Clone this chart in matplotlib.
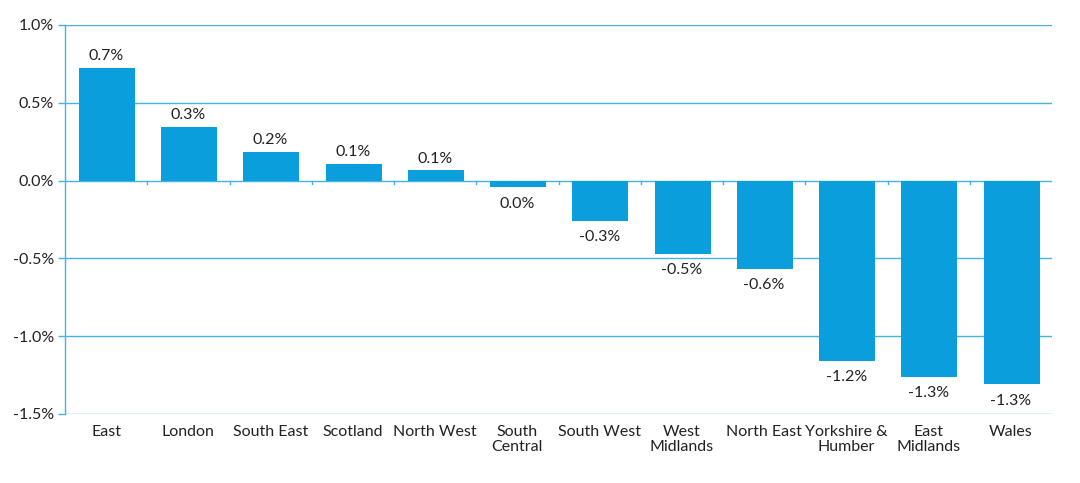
import matplotlib
matplotlib.use("Agg")
import matplotlib.pyplot as plt
import numpy as np

categories = ["East", "London", "South East", "Scotland", "North West", "South\nCentral",
              "South West", "West\nMidlands", "North East", "Yorkshire &\nHumber",
              "East\nMidlands", "Wales"]
values = [0.726, 0.347, 0.186, 0.109, 0.07, -0.04, -0.257, -0.47, -0.566, -1.157, -1.26, -1.31]
value_labels = ["0.7%", "0.3%", "0.2%", "0.1%", "0.1%", "0.0%", "-0.3%", "-0.5%", "-0.6%",
                "-1.2%", "-1.3%", "-1.3%"]
yticks = [1.0, 0.5, 0.0, -0.5, -1.0, -1.5]
ytick_labels = ["1.0%", "0.5%", "0.0%", "-0.5%", "-1.0%", "-1.5%"]

bar_color = "#0a9fdc"
line_color = "#45b3e0"
text_color = "#222222"

plt.rcParams['font.family'] = ['Lato', 'DejaVu Sans']

fig = plt.figure(figsize=(10.8, 4.83), dpi=100)
ax = fig.add_axes([65/1080, 1 - 414/483, (1052-65)/1080, (414-25)/483])

x = np.arange(len(categories))
ax.bar(x + 0.01, values, width=0.68, color=bar_color, zorder=3)

ax.set_xlim(-0.5, len(categories) - 0.5)
ax.set_ylim(-1.5, 1.0)

for yv in yticks:
    ax.axhline(yv, color=line_color, lw=1.0, zorder=1)

fs = 11.5
for xi, v, lab in zip(x, values, value_labels):
    if v >= 0:
        ax.annotate(lab, (xi, v), xytext=(0, 3), textcoords="offset points",
                    ha="center", va="bottom", fontsize=fs, color=text_color)
    else:
        ax.annotate(lab, (xi, v), xytext=(0, -7), textcoords="offset points",
                    ha="center", va="top", fontsize=fs, color=text_color)

# category labels below axis
for xi, c in zip(x, categories):
    ax.annotate(c, (xi, -1.5), xytext=(0, -8), textcoords="offset points",
                ha="center", va="top", fontsize=fs, color=text_color, linespacing=1.05,
                annotation_clip=False)

# small tick marks at category boundaries on zero line
for b in np.arange(0.5, len(categories) - 0.5, 1.0):
    ax.plot([b, b], [0, -0.025], color=line_color, lw=1.0, zorder=2)

ax.set_xticks([])
ax.set_yticks(yticks)
ax.set_yticklabels(ytick_labels, fontsize=fs, color=text_color)
ax.tick_params(axis='y', length=5, color=line_color, width=1.0, pad=3)

for s in ["top", "right", "bottom"]:
    ax.spines[s].set_visible(False)
ax.spines["left"].set_color(line_color)
ax.spines["left"].set_linewidth(1.0)

fig.savefig("out.png", dpi=100)
